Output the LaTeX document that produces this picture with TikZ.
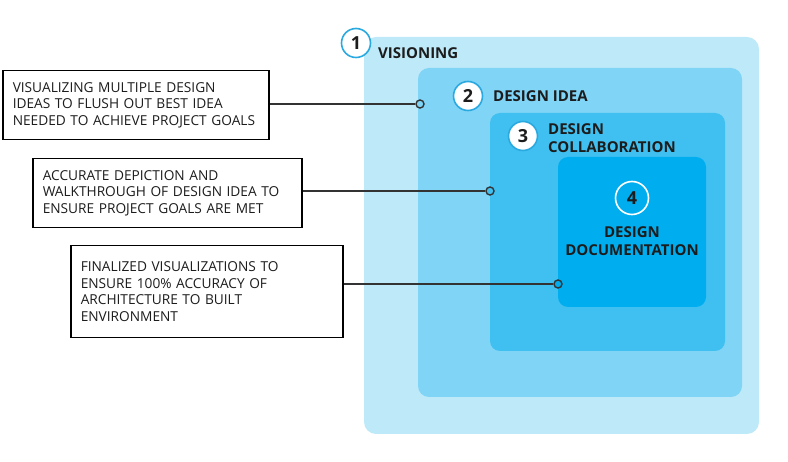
\documentclass[tikz,border=0pt]{standalone}
\usepackage{fontspec}
\setmainfont{Open Sans}
\definecolor{lvlone}{HTML}{BEE9F9}
\definecolor{lvltwo}{HTML}{80D4F6}
\definecolor{lvlthree}{HTML}{40C0F0}
\definecolor{lvlfour}{HTML}{00AEEF}
\definecolor{ringblue}{HTML}{29A9E0}
\definecolor{inkdark}{HTML}{1C1C1C}
\definecolor{wiregray}{HTML}{333333}
\begin{document}
\begin{tikzpicture}[x=1pt,y=-1pt,
    note/.style={draw=black, line width=1.5pt, anchor=north west, align=left,
      inner sep=0pt, font=\fontsize{13.7}{16.5}\selectfont, text=inkdark},
    stage/.style={anchor=base west, align=left, text=inkdark, inner sep=0pt,
      font=\fontsize{15}{19}\selectfont\bfseries},
    badge/.style={circle, draw=ringblue, line width=1.6pt, fill=white,
      minimum size=29pt, inner sep=0pt, text=inkdark,
      font=\fontsize{18}{18}\selectfont\bfseries},
    dot/.style={circle, draw=wiregray, line width=1.4pt, minimum size=8pt, inner sep=0pt},
    wire/.style={draw=wiregray, line width=1.4pt}]
  \useasboundingbox (0,0) rectangle (788,462);

  % nested stages
  \fill[lvlone, rounded corners=12pt] (364,37) rectangle (759,434);
  \fill[lvltwo, rounded corners=11pt] (418,68) rectangle (742,397);
  \fill[lvlthree, rounded corners=10pt] (490,113) rectangle (725,351);
  \fill[lvlfour, rounded corners=10pt] (558,157) rectangle (706,307);

  % numbers
  \node[badge] (n1) at (356,43) {1};
  \node[badge] (n2) at (468,96) {2};
  \node[badge] (n3) at (523,136) {3};
  \node[badge, draw=white, fill=none, minimum size=33pt] (n4) at (632,198) {4};

  % stage titles
  \node[stage] (t1) at (378,59) {VISIONING};
  \node[stage] (t2) at (493,102) {DESIGN IDEA};
  \node[stage] (t3) at (548,153) {DESIGN\\[-1pt]COLLABORATION};
  \node[stage, anchor=base, align=center] (t4) at (632,256) {DESIGN\\[-1pt]DOCUMENTATION};

  % notes
  \node[note, minimum width=266pt, minimum height=69pt, text width=246pt] (a) at (2,70)
    {VISUALIZING MULTIPLE DESIGN\\IDEAS TO FLUSH OUT BEST IDEA\\NEEDED TO ACHIEVE PROJECT GOALS};
  \node[note, minimum width=269pt, minimum height=69pt, text width=249pt] (b) at (32,158)
    {ACCURATE DEPICTION AND\\WALKTHROUGH OF DESIGN IDEA TO\\ENSURE PROJECT GOALS ARE MET};
  \node[note, minimum width=272pt, minimum height=92pt, text width=252pt] (c) at (70,245)
    {FINALIZED VISUALIZATIONS TO\\ENSURE 100\% ACCURACY OF\\ARCHITECTURE TO BUILT\\ENVIRONMENT};

  % leader lines
  \node[dot, fill=lvltwo] (dA) at (420,104) {};
  \node[dot, fill=lvlthree] (dB) at (490,191) {};
  \node[dot, fill=lvlfour] (dC) at (558,284) {};
  \draw[wire] (a.east |- dA) -- (dA);
  \draw[wire] (b.east |- dB) -- (dB);
  \draw[wire] (c.east |- dC) -- (dC);
\end{tikzpicture}
\end{document}
